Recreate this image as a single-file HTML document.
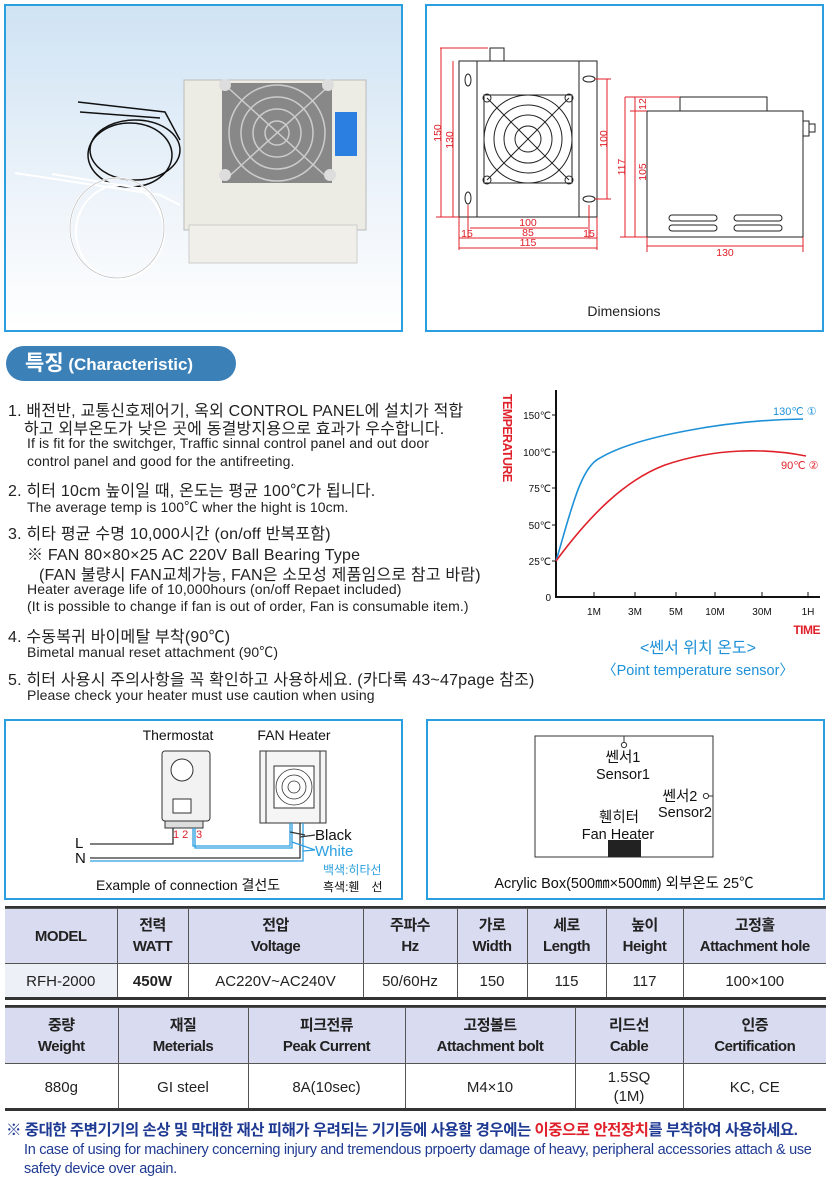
<!DOCTYPE html>
<html><head><meta charset="utf-8"><style>
*{margin:0;padding:0;box-sizing:border-box}
body{width:827px;height:1185px;background:#fff;position:relative;overflow:hidden;font-family:"Liberation Sans","Noto Sans CJK KR",sans-serif;color:#222}
.a{position:absolute;white-space:nowrap}
.k{font-size:16px;letter-spacing:0.2px}
.e{font-size:14px;letter-spacing:0.1px}
.box{position:absolute;border:2px solid #2a9fe0}
table{position:absolute;border-collapse:collapse;font-family:"Liberation Sans","Noto Sans CJK KR",sans-serif;color:#222}
td{border:1.5px solid #555;text-align:center;line-height:21px}
tr.h td{background:#d9dcf0;font-weight:bold;font-size:15px;letter-spacing:-0.5px}
tr.d td{font-size:15px}
</style></head><body>

<div class="box" style="left:4px;top:4px;width:399px;height:328px;background:linear-gradient(#cfe3f4,#eef4fa 60%,#fff)"></div>
<svg class="a" style="left:0;top:0" width="410" height="335">
 <rect x="184" y="80" width="182" height="150" fill="#ecebe4" stroke="#bbb"/>
 <rect x="189" y="225" width="168" height="38" fill="#f0efe9" stroke="#ccc"/>
 <rect x="222" y="83" width="110" height="100" fill="#888"/>
 <g stroke="#ccc" stroke-width="1.5" fill="none"><circle cx="277" cy="133" r="48"/><circle cx="277" cy="133" r="36"/><circle cx="277" cy="133" r="24"/><circle cx="277" cy="133" r="12"/><line x1="225" y1="85" x2="330" y2="180"/><line x1="330" y1="85" x2="225" y2="180"/></g>
 <circle cx="225" cy="85" r="6" fill="#ddd"/><circle cx="328" cy="85" r="6" fill="#ddd"/><circle cx="225" cy="175" r="6" fill="#ddd"/><circle cx="330" cy="175" r="6" fill="#ddd"/>
 <rect x="335" y="112" width="22" height="44" fill="#2a7fe0"/>
 <g fill="none" stroke="#111" stroke-width="1.5"><ellipse cx="130" cy="155" rx="42" ry="32"/><ellipse cx="135" cy="150" rx="45" ry="30"/><path d="M78 102 L165 112 L180 140"/><path d="M80 112 L160 118"/></g>
 <g fill="none" stroke="#fff" stroke-width="2"><ellipse cx="117" cy="228" rx="47" ry="50"/><ellipse cx="120" cy="232" rx="44" ry="47"/><path d="M15 173 L160 195 L180 205"/><path d="M52 174 L150 190"/></g>
 <g fill="none" stroke="#bbb" stroke-width="0.7"><ellipse cx="117" cy="228" rx="47" ry="50"/></g>
</svg>

<div class="box" style="left:425px;top:4px;width:399px;height:328px"></div>
<svg class="a" style="left:0;top:0" width="827" height="335" font-family="Liberation Sans" font-size="10.5">
 <g fill="none" stroke="#222" stroke-width="1">
  <rect x="459" y="61" width="138" height="156"/>
  <line x1="477" y1="61" x2="477" y2="217"/><line x1="579" y1="61" x2="579" y2="217"/>
  <rect x="490" y="48" width="14" height="13"/>
  <rect x="484" y="95" width="88" height="88"/>
  <circle cx="528" cy="139" r="44"/><circle cx="528" cy="139" r="34"/><circle cx="528" cy="139" r="24"/><circle cx="528" cy="139" r="13"/>
  <line x1="487" y1="98" x2="569" y2="180"/><line x1="569" y1="98" x2="487" y2="180"/>
  <circle cx="487" cy="98" r="4"/><circle cx="569" cy="98" r="4"/><circle cx="487" cy="180" r="4"/><circle cx="569" cy="180" r="4"/>
  <ellipse cx="468" cy="80" rx="3" ry="6"/><ellipse cx="468" cy="198" rx="3" ry="6"/>
  <ellipse cx="589" cy="79" rx="6" ry="3"/><ellipse cx="589" cy="199" rx="6" ry="3"/>
  <rect x="647" y="111" width="156" height="126"/>
  <rect x="680" y="97" width="87" height="14"/>
  <rect x="803" y="121" width="6" height="15"/><rect x="809" y="124" width="6" height="8"/>
  <rect x="669" y="215" width="48" height="6" rx="3"/><rect x="734" y="215" width="48" height="6" rx="3"/>
  <rect x="669" y="225" width="48" height="6" rx="3"/><rect x="734" y="225" width="48" height="6" rx="3"/>
 </g>
 <g stroke="#e0202a" stroke-width="1" fill="none">
  <line x1="440" y1="48" x2="488" y2="48"/><line x1="441" y1="48" x2="441" y2="217"/><line x1="453" y1="61" x2="453" y2="217"/><line x1="436" y1="217" x2="459" y2="217"/>
  <line x1="607" y1="79" x2="607" y2="199"/><line x1="595" y1="79" x2="611" y2="79"/><line x1="595" y1="199" x2="611" y2="199"/>
  <line x1="459" y1="217" x2="459" y2="250"/><line x1="597" y1="217" x2="597" y2="250"/>
  <line x1="468" y1="205" x2="468" y2="238"/><line x1="589" y1="205" x2="589" y2="238"/>
  <line x1="470" y1="228" x2="588" y2="228"/><line x1="459" y1="238" x2="597" y2="238"/><line x1="459" y1="248" x2="597" y2="248"/>
  <line x1="625" y1="97" x2="680" y2="97"/><line x1="625" y1="97" x2="625" y2="237"/><line x1="635" y1="97" x2="635" y2="237"/><line x1="630" y1="111" x2="647" y2="111"/><line x1="620" y1="237" x2="647" y2="237"/>
  <line x1="647" y1="237" x2="647" y2="252"/><line x1="803" y1="237" x2="803" y2="252"/><line x1="647" y1="246" x2="803" y2="246"/>
 </g>
 <g fill="#e0202a">
  <text x="528" y="226" text-anchor="middle">100</text><text x="528" y="236" text-anchor="middle">85</text><text x="528" y="246" text-anchor="middle">115</text>
  <text x="467" y="237" text-anchor="middle">15</text><text x="589" y="237" text-anchor="middle">15</text>
  <text x="725" y="256" text-anchor="middle">130</text>
  <text transform="translate(441,133) rotate(-90)" text-anchor="middle">150</text>
  <text transform="translate(453,140) rotate(-90)" text-anchor="middle">130</text>
  <text transform="translate(607,139) rotate(-90)" text-anchor="middle">100</text>
  <text transform="translate(625,167) rotate(-90)" text-anchor="middle">117</text>
  <text transform="translate(646,172) rotate(-90)" text-anchor="middle">105</text>
  <text transform="translate(646,104) rotate(-90)" text-anchor="middle">12</text>
 </g>
 <text x="624" y="316" text-anchor="middle" font-size="14" fill="#222">Dimensions</text>
</svg>

<div class="a" style="left:6px;top:346px;width:230px;height:35px;border-radius:18px;background:#3c80b8;color:#fff;font-weight:bold;line-height:35px;padding-left:19px"><span style="font-size:21px">특징</span><span style="font-size:17px"> (Characteristic)</span></div>

<div class="a k" style="left:8px;top:397px">1. 배전반, 교통신호제어기, 옥외 CONTROL PANEL에 설치가 적합</div>
<div class="a k" style="left:24px;top:415px">하고 외부온도가 낮은 곳에 동결방지용으로 효과가 우수합니다.</div>
<div class="a e" style="left:27px;top:435px">If is fit for the switchger, Traffic sinnal control panel and out door</div>
<div class="a e" style="left:27px;top:453px">control panel and good for the antifreeting.</div>
<div class="a k" style="left:8px;top:477px">2. 히터 10cm 높이일 때, 온도는 평균 100℃가 됩니다.</div>
<div class="a e" style="left:27px;top:497px">The average temp is 100℃ wher the hight is 10cm.</div>
<div class="a k" style="left:8px;top:520px">3. 히타 평균 수명 10,000시간 (on/off 반복포함)</div>
<div class="a k" style="left:27px;top:541px">※ FAN 80×80×25 AC 220V Ball Bearing Type</div>
<div class="a k" style="left:39px;top:561px">(FAN 불량시 FAN교체가능, FAN은 소모성 제품임으로 참고 바람)</div>
<div class="a e" style="left:27px;top:581px">Heater average life of 10,000hours (on/off Repaet included)</div>
<div class="a e" style="left:27px;top:598px">(It is possible to change if fan is out of order, Fan is consumable item.)</div>
<div class="a k" style="left:8px;top:623px">4. 수동복귀 바이메탈 부착(90℃)</div>
<div class="a e" style="left:27px;top:642px">Bimetal manual reset attachment (90℃)</div>
<div class="a k" style="left:8px;top:666px">5. 히터 사용시 주의사항을 꼭 확인하고 사용하세요. (카다록 43~47page 참조)</div>
<div class="a e" style="left:27px;top:687px">Please check your heater must use caution when using</div>

<svg class="a" style="left:495px;top:385px" width="332" height="300" font-family="Liberation Sans" font-size="10">
 <g stroke="#111" stroke-width="2" fill="none"><polyline points="61,5 61,212 325,212"/></g>
 <g stroke="#111" stroke-width="1">
  <line x1="57" y1="30" x2="61" y2="30"/><line x1="57" y1="67" x2="61" y2="67"/><line x1="57" y1="103" x2="61" y2="103"/><line x1="57" y1="140" x2="61" y2="140"/><line x1="57" y1="176" x2="61" y2="176"/>
  <line x1="99" y1="207" x2="99" y2="212"/><line x1="140" y1="207" x2="140" y2="212"/><line x1="181" y1="207" x2="181" y2="212"/><line x1="220" y1="207" x2="220" y2="212"/><line x1="267" y1="207" x2="267" y2="212"/><line x1="313" y1="207" x2="313" y2="212"/>
 </g>
 <g fill="#111" text-anchor="end"><text x="56" y="34">150℃</text><text x="56" y="71">100℃</text><text x="56" y="107">75℃</text><text x="56" y="144">50℃</text><text x="56" y="180">25℃</text><text x="56" y="216">0</text></g>
 <g fill="#111" text-anchor="middle"><text x="99" y="230">1M</text><text x="140" y="230">3M</text><text x="181" y="230">5M</text><text x="220" y="230">10M</text><text x="267" y="230">30M</text><text x="313" y="230">1H</text></g>
 <path d="M61 176 C75 130 85 82 105 73 C140 52 230 35 308 34" stroke="#1e90d8" stroke-width="1.6" fill="none"/>
 <path d="M61 176 C95 130 130 95 170 80 C220 63 270 63 311 71" stroke="#e0202a" stroke-width="1.6" fill="none"/>
 <text x="278" y="30" fill="#1e90d8" font-size="11">130℃ ①</text>
 <text x="286" y="84" fill="#e0202a" font-size="11">90℃ ②</text>
 <text transform="translate(8,9) rotate(90)" fill="#e0202a" font-weight="bold" font-size="12.5" letter-spacing="-0.6">TEMPERATURE</text>
 <text x="325" y="249" fill="#e0202a" font-weight="bold" text-anchor="end" font-size="12" letter-spacing="-0.5">TIME</text>
 <text x="203" y="268" fill="#1e90d8" text-anchor="middle" font-size="16" font-family="Liberation Sans, Noto Sans CJK KR">&lt;쎈서 위치 온도&gt;</text>
 <text x="203" y="290" fill="#1e90d8" text-anchor="middle" font-size="14.5">〈Point temperature sensor〉</text>
</svg>

<div class="box" style="left:4px;top:719px;width:399px;height:181px"></div>
<svg class="a" style="left:0;top:710px" width="420" height="195" font-family="Liberation Sans, Noto Sans CJK KR" font-size="14">
 <text x="178" y="30" text-anchor="middle" fill="#111">Thermostat</text>
 <text x="294" y="30" text-anchor="middle" fill="#111">FAN Heater</text>
 <rect x="162" y="41" width="48" height="70" rx="3" fill="#f2f2f2" stroke="#333"/>
 <circle cx="182" cy="60" r="11" fill="#fff" stroke="#333"/>
 <rect x="173" y="89" width="18" height="14" fill="#fff" stroke="#333"/>
 <rect x="165" y="111" width="38" height="7" fill="#ddd" stroke="#333"/>
 <rect x="260" y="41" width="66" height="72" fill="#f5f5f5" stroke="#333"/>
 <line x1="266" y1="41" x2="266" y2="113" stroke="#333"/><line x1="320" y1="41" x2="320" y2="113" stroke="#333"/>
 <rect x="274" y="56" width="40" height="42" fill="#fff" stroke="#333"/>
 <g fill="none" stroke="#333" stroke-width="0.8"><circle cx="294" cy="77" r="18"/><circle cx="294" cy="77" r="12"/><circle cx="294" cy="77" r="6"/></g>
 <text x="173" y="128" fill="#e0202a" font-size="11">1 2</text><text x="196" y="128" fill="#e0202a" font-size="11">3</text>
 <g fill="none" stroke-width="1.3">
  <polyline points="90,134 173,134 173,118" stroke="#333"/>
  <polyline points="193,118 193,136 290,136 290,113" stroke="#2a9fe0"/>
  <polyline points="195,118 195,138 292,138 292,113" stroke="#2a9fe0"/>
  <polyline points="90,148 300,148 300,113" stroke="#333"/>
  <polyline points="90,151 303,151 303,113" stroke="#2a9fe0"/>
  <polyline points="290,122 305,125" stroke="#333"/><polyline points="300,127 315,125" stroke="#333"/>
  <polyline points="292,132 315,140" stroke="#2a9fe0"/><polyline points="303,141 315,140" stroke="#2a9fe0"/>
 </g>
 <text x="75" y="138" fill="#111" font-size="15">L</text><text x="75" y="153" fill="#111" font-size="15">N</text>
 <text x="315" y="130" fill="#111" font-size="15">Black</text>
 <text x="315" y="146" fill="#2a9fe0" font-size="15">White</text>
 <text x="323" y="164" fill="#2a9fe0" font-size="12">백색:히타선</text>
 <text x="323" y="181" fill="#111" font-size="12">흑색:휀　선</text>
 <text x="96" y="180" fill="#111" font-size="14">Example of connection 결선도</text>
</svg>

<div class="box" style="left:426px;top:719px;width:399px;height:181px"></div>
<svg class="a" style="left:425px;top:715px" width="402" height="190" font-family="Liberation Sans, Noto Sans CJK KR" font-size="14.5" fill="#111">
 <rect x="110" y="21" width="178" height="121" fill="none" stroke="#333"/>
 <line x1="199" y1="21" x2="199" y2="27" stroke="#333"/><circle cx="199" cy="30" r="2.6" fill="#fff" stroke="#333"/>
 <line x1="284" y1="81" x2="288" y2="81" stroke="#333"/><circle cx="281" cy="81" r="2.6" fill="#fff" stroke="#333"/>
 <rect x="183" y="125" width="33" height="17" fill="#222"/>
 <text x="198" y="47" text-anchor="middle">쎈서1</text><text x="198" y="64" text-anchor="middle">Sensor1</text>
 <text x="255" y="86" text-anchor="middle">쎈서2</text><text x="260" y="102" text-anchor="middle">Sensor2</text>
 <text x="194" y="107" text-anchor="middle">휀히터</text><text x="193" y="124" text-anchor="middle">Fan Heater</text>
 <text x="199" y="173" text-anchor="middle">Acrylic Box(500㎜×500㎜) 외부온도 25℃</text>
</svg>

<div class="a" style="left:5px;top:906px;width:821px;height:3px;background:#333"></div>
<table style="left:5px;top:908px;width:821px">
 <colgroup><col style="width:112px"><col style="width:71px"><col style="width:175px"><col style="width:94px"><col style="width:70px"><col style="width:79px"><col style="width:77px"><col></colgroup>
 <tr class="h" style="height:55px"><td style="border-left:none">MODEL</td><td>전력<br>WATT</td><td>전압<br>Voltage</td><td>주파수<br>Hz</td><td>가로<br>Width</td><td>세로<br>Length</td><td>높이<br>Height</td><td style="border-right:none">고정홀<br>Attachment hole</td></tr>
 <tr class="d" style="height:35px"><td style="border-left:none;background:#eef0f8">RFH-2000</td><td style="font-weight:bold">450W</td><td>AC220V~AC240V</td><td>50/60Hz</td><td>150</td><td>115</td><td>117</td><td style="border-right:none">100×100</td></tr>
</table>
<div class="a" style="left:5px;top:997px;width:821px;height:3px;background:#333"></div>

<div class="a" style="left:5px;top:1005px;width:821px;height:3px;background:#333"></div>
<table style="left:5px;top:1007px;width:821px">
 <colgroup><col style="width:113px"><col style="width:130px"><col style="width:157px"><col style="width:170px"><col style="width:108px"><col></colgroup>
 <tr class="h" style="height:56px"><td style="border-left:none">중량<br>Weight</td><td>재질<br>Meterials</td><td>피크전류<br>Peak Current</td><td>고정볼트<br>Attachment bolt</td><td>리드선<br>Cable</td><td style="border-right:none">인증<br>Certification</td></tr>
 <tr class="d" style="height:47px"><td style="border-left:none">880g</td><td>GI steel</td><td>8A(10sec)</td><td>M4×10</td><td style="line-height:19px">1.5SQ<br>(1M)</td><td style="border-right:none">KC, CE</td></tr>
</table>
<div class="a" style="left:5px;top:1108px;width:821px;height:3px;background:#333"></div>

<div class="a" style="left:6px;top:1118px;font-size:15.5px;font-weight:bold;color:#1f3a93;letter-spacing:-0.5px">※ 중대한 주변기기의 손상 및 막대한 재산 피해가 우려되는 기기등에 사용할 경우에는 <span style="color:#e0202a">이중으로 안전장치</span>를 부착하여 사용하세요.</div>
<div class="a" style="left:24px;top:1142px;font-size:14.5px;color:#1f3a93;letter-spacing:-0.3px">In case of using for machinery concerning injury and tremendous prpoerty damage of heavy, peripheral accessories attach &amp; use</div>
<div class="a" style="left:24px;top:1161px;font-size:14.5px;color:#1f3a93;letter-spacing:-0.3px">safety device over again.</div>
</body></html>
